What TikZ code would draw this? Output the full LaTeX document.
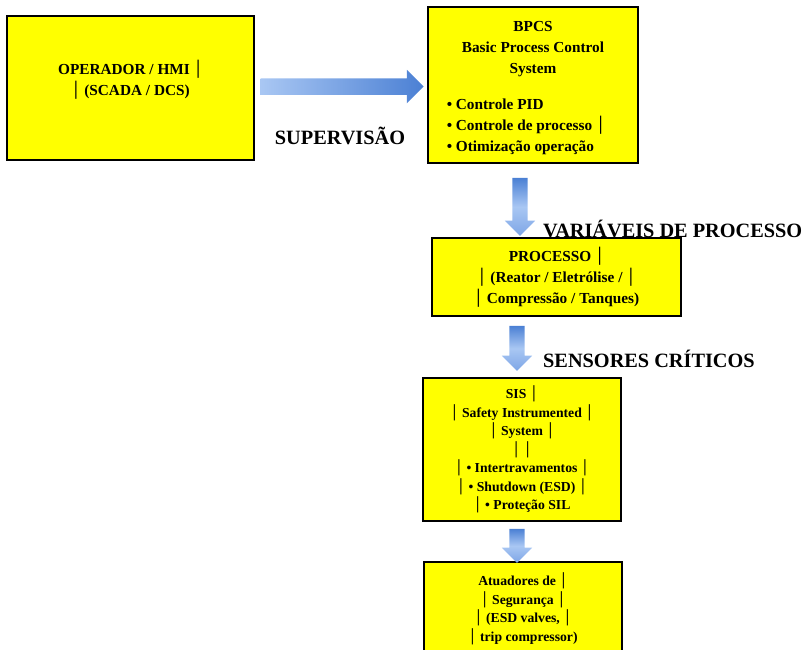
\documentclass[tikz,border=0pt]{standalone}
\usepackage{fontspec}
\setmainfont{Liberation Serif}
\newfontfamily\barfont{DejaVu Sans}
\usetikzlibrary{shapes.arrows,calc}
\newcommand{\vb}{{\barfont\mdseries │}}
\definecolor{amarelo}{HTML}{FFFF00}
\definecolor{setaclara}{HTML}{A9C7F3}
\definecolor{setamedia}{HTML}{7EA6E6}
\definecolor{setaescura}{HTML}{4B80D4}
\tikzset{
  caixa/.style={draw=black, line width=2.6pt, fill=amarelo, align=center,
    inner sep=0pt, font=\fontsize{15.3}{21}\selectfont\bfseries},
  caixapeq/.style={caixa, font=\fontsize{13.7}{18.5}\selectfont\bfseries},
  rotulo/.style={inner sep=0pt, font=\fontsize{20.3}{24}\selectfont\bfseries},
  setah/.style={single arrow, draw=none, inner xsep=0pt, inner ysep=8pt,
    single arrow head extend=8.5, left color=setaclara, right color=setaescura},
  setav/.style={single arrow, draw=none, inner xsep=0pt, inner ysep=7.5pt,
    single arrow head extend=7.5, sloped, top color=setaescura,
    bottom color=setamedia, middle color=setaclara},
}

\begin{document}
\begin{tikzpicture}[x=1pt,y=-1pt]
\useasboundingbox (0,0) rectangle (809,650);

% caixas
\node[caixa, minimum width=247, minimum height=144] (hmi) at (130.5,88)
  {OPERADOR / HMI \vb\\\vb{} (SCADA / DCS)\\\mbox{}};
\node[caixa, minimum width=210, minimum height=156] (bpcs) at (533,85)
  {\rule{0pt}{20pt}BPCS\\Basic Process Control\\System\\[15pt]
   \begin{tabular}[t]{@{}l@{}}• Controle PID\\• Controle de processo \vb\\• Otimização operação\end{tabular}\hspace*{14pt}};
\node[caixa, minimum width=249, minimum height=78] (proc) at (556.5,277)
  {PROCESSO \vb\\\vb{} (Reator / Eletrólise / \vb\\\vb{} Compressão / Tanques)};
\node[caixapeq, minimum width=198, minimum height=143] (sis) at (522,449.5)
  {SIS \vb\\\vb{} Safety Instrumented \vb\\\vb{} System \vb\\\vb{} \vb\\
   \vb{} • Intertravamentos \vb\\\vb{} • Shutdown (ESD) \vb\\\vb{} • Proteção SIL};
\node[caixapeq, minimum width=198, minimum height=94] (atu) at (523,609)
  {Atuadores de \vb\\\vb{} Segurança \vb\\\vb{} (ESD valves, \vb\\\vb{} trip compressor)};

% setas
\coordinate (eixo1) at (520,0);
\coordinate (eixo2) at (517,0);
\path (hmi.east) -- (bpcs.west) node[setah, pos=0.4825, minimum height=163] (s0) {};
\path (eixo1 |- bpcs.south) -- (eixo1 |- proc.north)
  node[setav, pos=0.535, minimum height=58] (s1) {};
\path (eixo2 |- proc.south) -- (eixo2 |- sis.north)
  node[setav, pos=0.458, minimum height=45] (s2) {};
\path (eixo2 |- sis.south) -- (eixo2 |- atu.north)
  node[setav, pos=0.513, minimum height=34] (s3) {};

% rotulos
\node[rotulo, anchor=base] (supervisao) at (340,145) {SUPERVISÃO};
\node[rotulo, anchor=base west] (variaveis) at (543,237) {VARIÁVEIS DE PROCESSO};
\node[rotulo, anchor=base west] (sensores) at (543,367) {SENSORES CRÍTICOS};
\end{tikzpicture}
\end{document}
